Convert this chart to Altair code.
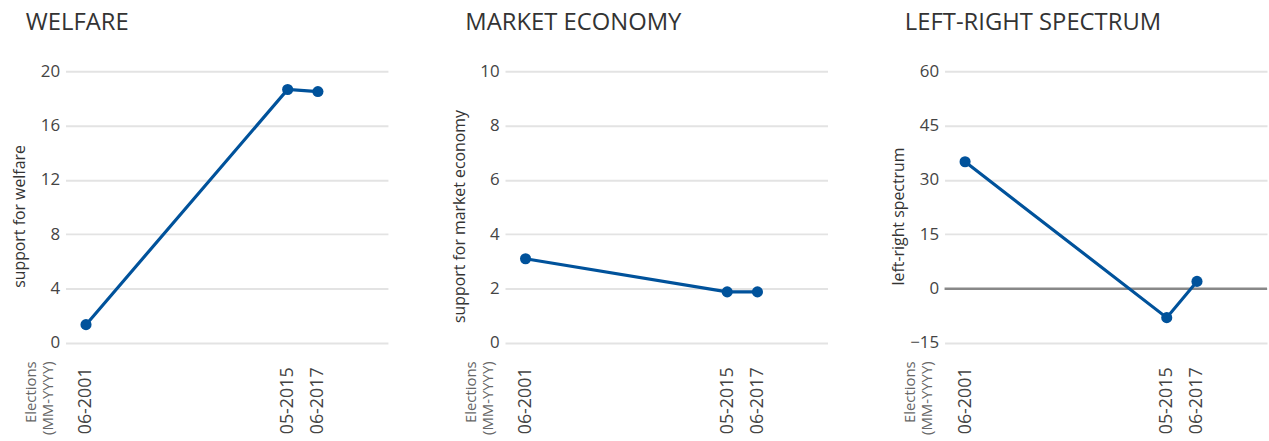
import altair as alt
import pandas as pd

# Election dates and their axis labels
election_dates = ["2001-06-01", "2015-05-01", "2017-06-01"]
election_labels = ["06-2001", "05-2015", "06-2017"]

# Party positions per election
welfare = [1.35, 18.65, 18.5]
market_economy = [3.1, 1.88, 1.88]
left_right = [35.0, -8.0, 2.0]

panel_titles = ["WELFARE", "MARKET ECONOMY", "LEFT-RIGHT SPECTRUM"]
y_titles = ["support for welfare", "support for market economy", "left-right spectrum"]
y_domains = [[0, 20], [0, 10], [-15, 60]]
y_ticks = [[0, 4, 8, 12, 16, 20], [0, 2, 4, 6, 8, 10], [-15, 0, 15, 30, 45, 60]]

LINE_COLOR = "#00529B"
FONT = "Open Sans"
W, H = 325, 274


def panel(values, title, y_title, domain, ticks, zero_rule=False):
    df = pd.DataFrame({"date": election_dates, "label": election_labels, "value": values})
    base = alt.Chart(df)
    x = alt.X(
        "date:T",
        scale=alt.Scale(domain=["2000-01-01", "2022-04-01"]),
        axis=alt.Axis(
            values=election_dates,
            format="%m-%Y",
            labelAngle=270,
            labelPadding=24,
            labelFontSize=18,
            labelColor="#444444",
            labelFont=FONT,
            grid=False,
            ticks=False,
            domain=False,
            title=["Elections", "(MM-YYYY)"],
            titleAngle=270,
            titleAlign="right",
            titleBaseline="top",
            titleX=-42,
            titleY=18,
            titleFontSize=15,
            titleFontWeight="normal",
            titleColor="#666666",
            titleFont=FONT,
            titleLineHeight=17,
        ),
    )
    y = alt.Y(
        "value:Q",
        scale=alt.Scale(domain=domain, nice=False, zero=False),
        axis=alt.Axis(
            values=ticks,
            labelFontSize=17,
            labelColor="#444444",
            labelFont=FONT,
            labelPadding=6,
            grid=True,
            gridColor="#E3E3E3",
            gridWidth=2,
            ticks=False,
            domain=False,
            title=y_title,
            titleFontSize=16,
            titleFontWeight="normal",
            titleColor="#333333",
            titleFont=FONT,
            titleBaseline="bottom",
            titleX=-38,
            titleY=146,
        ),
    )
    line = base.mark_line(color=LINE_COLOR, strokeWidth=3.2).encode(x=x, y=y)
    pts = base.mark_point(color=LINE_COLOR, filled=True, opacity=1, size=125).encode(x=x, y=y)
    layers = []
    if zero_rule:
        zdf = pd.DataFrame({"zero": [0]})
        layers.append(
            alt.Chart(zdf)
            .mark_rule(color="#888888", strokeWidth=2.5)
            .encode(y=alt.Y("zero:Q", scale=alt.Scale(domain=domain, nice=False, zero=False)))
        )
    layers += [line, pts]
    return alt.layer(*layers).properties(
        width=W,
        height=H,
        title=alt.TitleParams(
            text=title,
            anchor="start",
            frame="group",
            dx=-40,
            offset=27,
            fontSize=24,
            fontWeight="normal",
            font=FONT,
            color="#333333",
        ),
    )


series = [welfare, market_economy, left_right]
panels = [
    panel(series[i], panel_titles[i], y_titles[i], y_domains[i], y_ticks[i], zero_rule=(i == 2))
    for i in range(3)
]

chart = (
    alt.hconcat(*panels, spacing=64)
    .properties(padding={"left": 12, "top": 10, "right": 0, "bottom": 0}, background="white")
    .configure_view(stroke=None)
)

chart.save("out.html", embed_options={"renderer": "svg", "actions": False})
